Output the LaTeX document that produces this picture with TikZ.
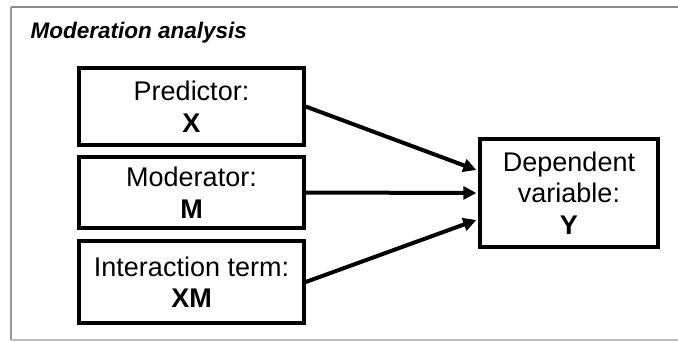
\documentclass[tikz,border=0pt]{standalone}
\usepackage{fontspec}
\setmainfont{Liberation Sans}
\usetikzlibrary{arrows.meta,calc}
\begin{document}
\begin{tikzpicture}[x=1pt,y=-1pt,
  varbox/.style={draw=black,line width=3.4pt,align=center,inner sep=0pt,
    font=\fontsize{27}{31.5}\selectfont},
  path/.style={line width=4pt,-{Triangle[length=13pt,width=13pt]}},
  frame/.style={line width=2.5pt}]
\useasboundingbox (0,0) rectangle (678,341);
% outer panel border
\draw[frame,draw=black!45] (11,7) -- (678,7);
\draw[frame,draw=black!40] (11,7) -- (11,340);
\draw[frame,draw=black!25] (11,340) -- (678,340);
\node[anchor=base west,font=\fontsize{22.5}{26}\selectfont\bfseries\itshape] (title) at (27,38) {Moderation analysis};
% variables
\node[varbox,minimum width=225pt,minimum height=77pt] (pred) at (191.5,106.5) {Predictor:\\\textbf{X}};
\node[varbox,minimum width=225pt,minimum height=71pt] (mod) at (191.5,192.5) {Moderator:\\\textbf{M}};
\node[varbox,minimum width=225pt,minimum height=82pt] (inter) at (191.5,282) {Interaction term:\\\textbf{XM}};
\node[varbox,minimum width=178pt,minimum height=108pt] (dep) at (569,193) {Dependent\\variable:\\\textbf{Y}};
% effects on the outcome
\coordinate (inTop) at ($(dep.west)+(-2,-23)$);
\coordinate (inMid) at ($(dep.west)+(-2,0)$);
\coordinate (inBot) at ($(dep.west)+(-2,27)$);
\draw[path] (pred.east) -- (inTop);
\draw[path] (mod.east) -- (inMid);
\draw[path] (inter.east) -- (inBot);
\end{tikzpicture}
\end{document}
